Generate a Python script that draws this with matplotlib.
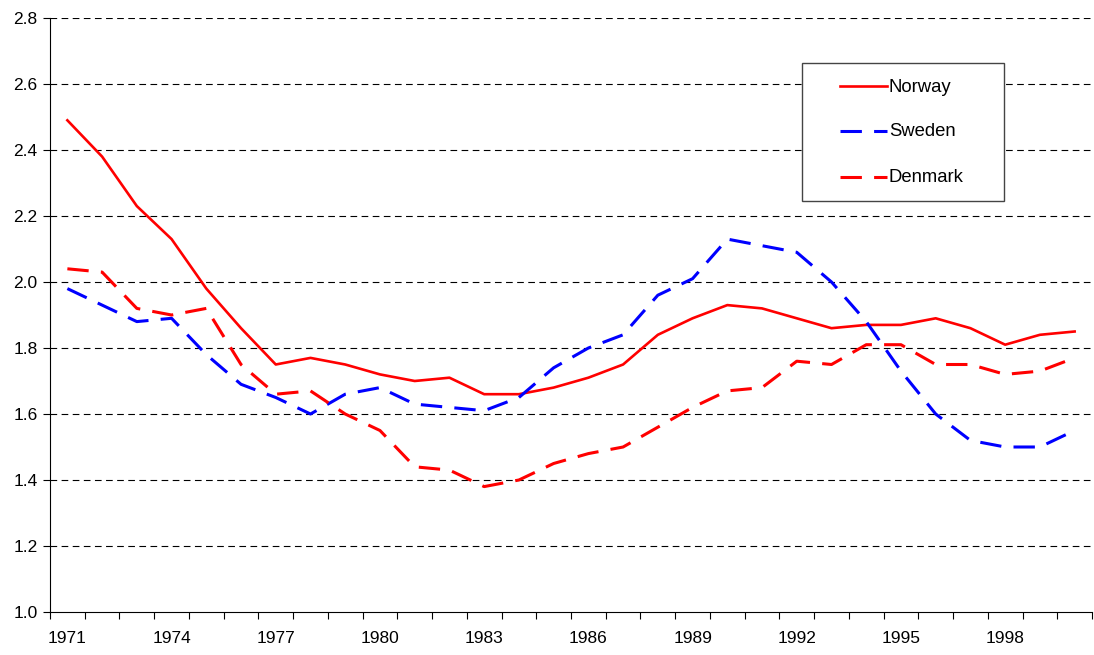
import numpy as np
import matplotlib.pyplot as plt
from matplotlib.patches import Rectangle
from matplotlib.lines import Line2D

plt.rcParams['font.family'] = ['Liberation Sans', 'DejaVu Sans']

years = list(range(1971, 2001))
norway = [2.49, 2.38, 2.23, 2.13, 1.98, 1.86, 1.75, 1.77, 1.75, 1.72,
          1.70, 1.71, 1.66, 1.66, 1.68, 1.71, 1.75, 1.84, 1.89, 1.93,
          1.92, 1.89, 1.86, 1.87, 1.87, 1.89, 1.86, 1.81, 1.84, 1.85]
sweden = [1.98, 1.93, 1.88, 1.89, 1.78, 1.69, 1.65, 1.60, 1.66, 1.68,
          1.63, 1.62, 1.61, 1.65, 1.74, 1.80, 1.84, 1.96, 2.01, 2.13,
          2.11, 2.09, 2.00, 1.88, 1.73, 1.60, 1.52, 1.50, 1.50, 1.55]
denmark = [2.04, 2.03, 1.92, 1.90, 1.92, 1.75, 1.66, 1.67, 1.60, 1.55,
           1.44, 1.43, 1.38, 1.40, 1.45, 1.48, 1.50, 1.56, 1.62, 1.67,
           1.68, 1.76, 1.75, 1.81, 1.81, 1.75, 1.75, 1.72, 1.73, 1.77]

W, H = 1094, 655
fig = plt.figure(figsize=(W / 100, H / 100), dpi=100)
ax = fig.add_axes([50 / W, 1 - 612 / H, 1042 / W, 594 / H])

x = np.arange(len(years))
series = [
    ('Norway', norway, dict(color='#ff0000', lw=1.9)),
    ('Sweden', sweden, dict(color='#0000ff', lw=2.2, dashes=(7, 4))),
    ('Denmark', denmark, dict(color='#ff0000', lw=2.2, dashes=(7, 4))),
]
for name, vals, style in series:
    ax.plot(x, vals, zorder=3, **style)

# dashed gridlines
for yv in np.arange(1.2, 2.81, 0.2):
    ax.axhline(yv, color='black', lw=0.8, dashes=(6, 4), zorder=1)

ax.set_ylim(1.0, 2.8)
ax.set_xlim(-0.5, len(years) - 0.5)
ax.set_yticks(np.arange(1.0, 2.81, 0.2))
ax.set_yticklabels([f'{v:.1f}' for v in np.arange(1.0, 2.81, 0.2)], fontsize=12.5)
ax.set_xticks(x[::3])
ax.set_xticklabels([str(y) for y in years[::3]], fontsize=12.5)
ax.set_xticks(np.arange(-0.5, len(years), 1), minor=True)
ax.tick_params(axis='x', which='major', length=0, pad=14)
ax.tick_params(axis='x', which='minor', length=5, width=0.8)
ax.tick_params(axis='y', length=5, width=0.8, pad=4)

ax.spines['top'].set_visible(False)
ax.spines['right'].set_visible(False)
ax.spines['left'].set_linewidth(0.8)
ax.spines['bottom'].set_linewidth(0.8)

# legend box drawn by hand (Excel-style padding)
def fx(px):
    return px / W

def fy(py):
    return 1 - py / H

fig.add_artist(Rectangle((fx(802), fy(201)), fx(1004) - fx(802), fy(63) - fy(201),
                         transform=fig.transFigure, facecolor='white',
                         edgecolor='#444444', lw=1.0, zorder=5))
for (name, vals, style), py in zip(series, [86, 131, 177]):
    fig.add_artist(Line2D([fx(840), fx(887)], [fy(py), fy(py)],
                          transform=fig.transFigure, zorder=6, **style))
    fig.text(fx(889), fy(py + 1), name, fontsize=13.3, va='center', ha='left', zorder=6)

fig.savefig('out.png', dpi=100)
